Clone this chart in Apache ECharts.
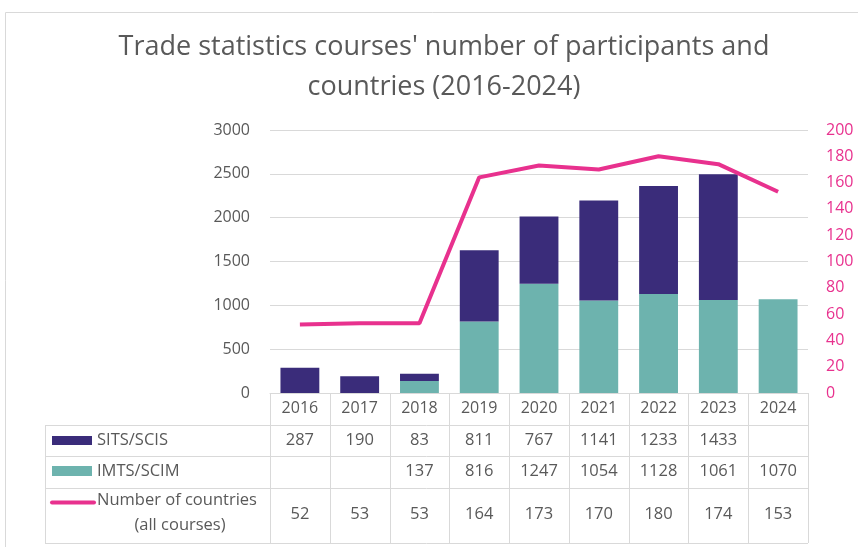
<!DOCTYPE html>
<html>
<head>
<meta charset="utf-8">
<script src="https://cdn.jsdelivr.net/npm/echarts@6/dist/echarts.min.js"></script>
<style>
  html, body { margin: 0; padding: 0; background: #fff; }
  #chart { width: 858px; height: 547px; }
</style>
</head>
<body>
<div id="chart"></div>
<script>
const years = ["2016", "2017", "2018", "2019", "2020", "2021", "2022", "2023", "2024"];
const sits = [287, 190, 83, 811, 767, 1141, 1233, 1433, null];
const imts = [null, null, 137, 816, 1247, 1054, 1128, 1061, 1070];
const countries = [52, 53, 53, 164, 173, 170, 180, 174, 153];

const leftTicks = { min: 0, max: 3000, interval: 500 };
const rightTicks = { min: 0, max: 200, interval: 20 };

const C_SITS = "#3a2c7a";
const C_IMTS = "#6db3ae";
const C_LINE = "#e8318e";
const C_TEXT = "#595959";
const C_GRID = "#d9d9d9";
const FONT = "Open Sans";

const chart = echarts.init(document.getElementById("chart"));

chart.setOption({
  animation: false,
  textStyle: { fontFamily: FONT },
  title: {
    text: "Trade statistics courses' number of participants and\ncountries (2016-2024)",
    left: 444,
    top: 27,
    padding: 0,
    textAlign: "center",
    textStyle: { color: C_TEXT, fontSize: 27, fontWeight: "normal", lineHeight: 40, fontFamily: FONT }
  },
  grid: { left: 270, right: 50, top: 130, bottom: 154 },
  xAxis: {
    type: "category",
    data: years,
    axisLine: { show: true, lineStyle: { color: C_GRID } },
    axisTick: { show: false },
    axisLabel: { color: C_TEXT, fontSize: 16, margin: 7 }
  },
  yAxis: [
    {
      type: "value",
      ...leftTicks,
      axisLine: { show: false },
      axisTick: { show: false },
      axisLabel: { color: C_TEXT, fontSize: 16, margin: 20, formatter: v => String(v) },
      splitLine: { lineStyle: { color: C_GRID, width: 1 } }
    },
    {
      type: "value",
      ...rightTicks,
      position: "right",
      axisLine: { show: false },
      axisTick: { show: false },
      axisLabel: { color: C_LINE, fontSize: 16, margin: 18, formatter: v => String(v) },
      splitLine: { show: false }
    }
  ],
  series: [
    {
      name: "IMTS/SCIM",
      type: "bar",
      stack: "total",
      data: imts,
      barWidth: "65%",
      itemStyle: { color: C_IMTS }
    },
    {
      name: "SITS/SCIS",
      type: "bar",
      stack: "total",
      data: sits,
      barWidth: "65%",
      itemStyle: { color: C_SITS }
    },
    {
      name: "Number of countries (all courses)",
      type: "line",
      yAxisIndex: 1,
      data: countries,
      symbol: "none",
      lineStyle: { color: C_LINE, width: 4 }
    }
  ]
});

// data table below the plot
function buildTable() {
  const x0 = chart.convertToPixel({ xAxisIndex: 0 }, 0);
  const x1 = chart.convertToPixel({ xAxisIndex: 0 }, 1);
  const step = x1 - x0;
  const left = x0 - step / 2;
  const right = left + step * years.length;
  const rows = [393, 425, 456, 488, 543];
  const tableLeft = 45;
  const g = [];

  const line = (xa, ya, xb, yb) => g.push({
    type: "line",
    shape: { x1: xa, y1: ya, x2: xb, y2: yb },
    style: { stroke: C_GRID, lineWidth: 1 },
    silent: true
  });
  const text = (str, x, y, align) => g.push({
    type: "text",
    x: x, y: y,
    style: { text: str, fill: C_TEXT, font: "16.5px " + FONT, align: align || "center", verticalAlign: "middle" },
    silent: true
  });

  // outer frame
  g.push({ type: "rect", shape: { x: 5.5, y: 12.5, width: 900, height: 600 }, style: { fill: null, stroke: C_GRID, lineWidth: 1 }, silent: true });

  for (let i = 1; i < rows.length; i++) line(tableLeft, rows[i] + 0.5, right, rows[i] + 0.5);
  line(tableLeft + 0.5, rows[1], tableLeft + 0.5, rows[4]);
  for (let i = 0; i <= years.length; i++) {
    const x = Math.round(left + step * i) + 0.5;
    line(x, rows[0], x, rows[4]);
  }

  // legend keys
  g.push({ type: "rect", shape: { x: 52, y: 436, width: 40, height: 9 }, style: { fill: C_SITS }, silent: true });
  g.push({ type: "rect", shape: { x: 52, y: 466, width: 40, height: 10 }, style: { fill: C_IMTS }, silent: true });
  g.push({ type: "line", shape: { x1: 52, y1: 502.5, x2: 94, y2: 502.5 }, style: { stroke: C_LINE, lineWidth: 4, lineCap: "round" }, silent: true });
  text("SITS/SCIS", 97, 440, "left");
  text("IMTS/SCIM", 97, 471, "left");
  text("Number of countries", 97, 500, "left");
  text("(all courses)", 180, 525, "center");

  const yRow = [440, 471, 514];
  const rowsData = [sits, imts, countries];
  rowsData.forEach((arr, r) => {
    arr.forEach((v, i) => {
      if (v == null) return;
      text(String(v), chart.convertToPixel({ xAxisIndex: 0 }, i), yRow[r]);
    });
  });

  chart.setOption({ graphic: g });
}
buildTable();
</script>
</body>
</html>
